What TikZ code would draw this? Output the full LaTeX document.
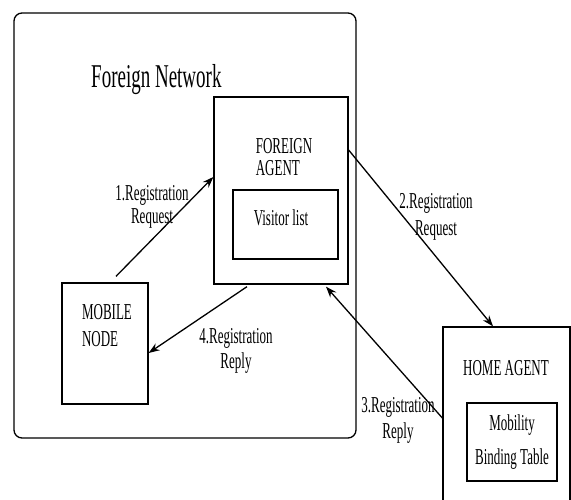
\documentclass[tikz,border=0pt]{standalone}
\usepackage{fontspec}
\setmainfont{Liberation Serif}
\usepackage{graphicx}
\usetikzlibrary{arrows.meta}
% tall, narrow lettering used throughout the figure
\newcommand{\tallt}[1]{\scalebox{1}[1.75]{#1}}

\begin{document}
\begin{tikzpicture}[x=1pt,y=-1pt,
  box/.style={draw, line width=1.3pt, inner sep=0pt, rectangle},
  txt/.style={inner sep=0pt, align=#1, font=\fontsize{13}{22}\selectfont},
  txt/.default=center,
  msg/.style={line width=1.3pt, -{Stealth[length=11pt,width=8pt]}},
  lbl/.style={inner sep=0pt, align=center, font=\fontsize{13}{#1}\selectfont},
  lbl/.default=26]
% fixed line distances in multi-line labels
\lineskiplimit=-100pt\relax
\useasboundingbox (0,0) rectangle (571,500);
\fill[white] (0,0) rectangle (571,500);
\clip (0,0) rectangle (571,500);

% foreign network enclosure
\node[box, rounded corners=8pt, minimum width=342pt, minimum height=425pt]
  (fnet) at (185,225.5) {};
\node[inner sep=0pt, anchor=base west, font=\fontsize{19}{19}\selectfont]
  (fnettitle) at (91,88) {\tallt{Foreign Network}};

% foreign agent with its visitor list
\node[box, minimum width=134pt, minimum height=187pt] (fa) at (281,190.5) {};
\node[txt=left] (fatext) at (284,157) {\tallt{FOREIGN}\\\tallt{AGENT}};
\node[box, minimum width=105pt, minimum height=69pt] (vl) at (285.5,224.5) {};
\node[txt] (vltext) at (281,218) {\tallt{Visitor list}};

% mobile node
\node[box, minimum width=86pt, minimum height=121pt] (mn) at (105,343.5) {};
\node[txt=left, font=\fontsize{13}{27}\selectfont]
  (mntext) at (107,326) {\tallt{MOBILE}\\\tallt{NODE}};

% home agent with its mobility binding table
\node[box, minimum width=127pt, minimum height=213pt] (ha) at (506.5,433.5) {};
\node[txt] (hatext) at (506,368) {\tallt{HOME AGENT}};
\node[box, minimum width=90pt, minimum height=78pt] (mbt) at (512,442) {};
\node[txt, font=\fontsize{13}{34}\selectfont]
  (mbttext) at (512,442) {\tallt{Mobility}\\\tallt{Binding Table}};

% message end points
\coordinate (m1s) at ([xshift=11pt,yshift=6pt]mn.north);
\coordinate (m1e) at ([yshift=13.5pt]fa.west);
\coordinate (m2s) at ([yshift=40.5pt]fa.east);
\coordinate (m2e) at ([xshift=-13.5pt]ha.north);
\coordinate (m3s) at ([yshift=15.5pt]ha.west);
\coordinate (m3e) at ([xshift=45pt,yshift=-2pt]fa.south);
\coordinate (m4s) at ([xshift=-34pt,yshift=-2pt]fa.south);
\coordinate (m4e) at ([yshift=-9.5pt]mn.east);

% registration messages
\draw[msg] (m1s) -- (m1e);
\draw[msg] (m2s) -- (m2e);
\draw[msg] (m3s) -- (m3e);
\draw[msg] (m4s) -- (m4e);

\node[lbl=23] (l1) at (152,207) {\tallt{1.Registration}\\\tallt{Request}};
\node[lbl=27] (l2) at (436,216.5) {\tallt{2.Registration}\\\tallt{Request}};
\node[lbl=26] (l3) at (398,420) {\tallt{3.Registration}\\\tallt{Reply}};
\node[lbl=25] (l4) at (236,350.5) {\tallt{4.Registration}\\\tallt{Reply}};
\end{tikzpicture}
\end{document}
